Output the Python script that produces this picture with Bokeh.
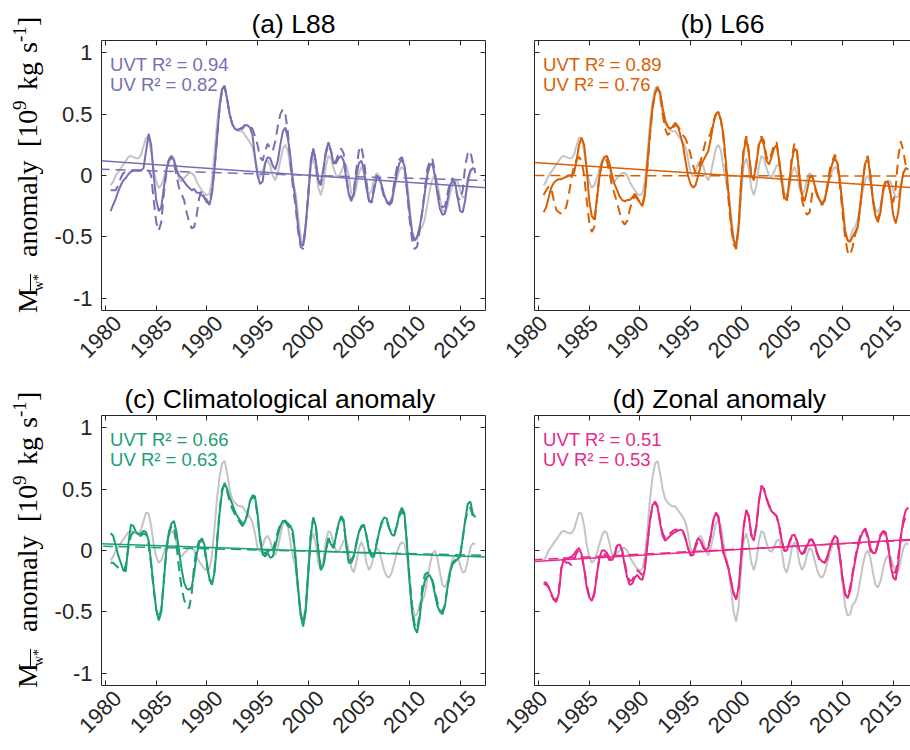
import math
import numpy as np
from bokeh.plotting import figure
from bokeh.models import Range1d, LinearAxis, FixedTicker, Label, Slope, CustomJSTickFormatter, Div
from bokeh.layouts import column, row
from bokeh.embed import file_html
from bokeh.resources import INLINE

# quarterly sample times (1980.5 ... 2016.5)
t = np.arange(1980.5, 2016.501, 0.25)

# ---- reference series (grey, same in every panel) ----
gray = [
    -0.08, -0.05,
    0.0, 0.03, 0.06, 0.09,      # 1981
    0.12, 0.15, 0.16, 0.15,     # 1982
    0.14, 0.14, 0.17, 0.24,     # 1983
    0.31, 0.3, 0.2, 0.05,       # 1984
    -0.05, -0.1, -0.08, -0.02,  # 1985
    0.05, 0.12, 0.16, 0.14,     # 1986
    0.06, -0.03, -0.05, -0.02,  # 1987
    0.0, 0.02, 0.02, 0.0,       # 1988
    -0.05, -0.09, -0.12, -0.15, # 1989
    -0.16, -0.15, -0.04, 0.18,  # 1990
    0.42, 0.6, 0.71, 0.73,      # 1991
    0.63, 0.5, 0.42, 0.39,      # 1992
    0.37, 0.36, 0.36, 0.33,     # 1993
    0.3, 0.27, 0.23, 0.14,      # 1994
    0.02, -0.01, 0.04, 0.1,     # 1995
    0.12, 0.08, 0.0, -0.04,     # 1996
    0.02, 0.12, 0.22, 0.25,     # 1997
    0.2, 0.06, -0.05, -0.14,    # 1998
    -0.32, -0.5, -0.58, -0.45,  # 1999
    -0.15, 0.08, 0.14, 0.05,    # 2000
    -0.1, -0.16, -0.08, 0.08,   # 2001
    0.16, 0.14, 0.06, 0.0,      # 2002
    -0.01, 0.03, 0.08, 0.09,    # 2003
    0.0, -0.14, -0.18, -0.1,    # 2004
    0.02, 0.07, 0.02, -0.1,     # 2005
    -0.16, -0.12, -0.03, 0.02,  # 2006
    0.0, -0.08, -0.16, -0.21,   # 2007
    -0.22, -0.18, -0.1, -0.02,  # 2008
    0.04, 0.07, 0.05, -0.05,    # 2009
    -0.25, -0.45, -0.53, -0.52, # 2010
    -0.44, -0.42, -0.36, -0.24, # 2011
    -0.12, -0.03, 0.0, -0.06,   # 2012
    -0.18, -0.28, -0.3, -0.25,  # 2013
    -0.15, -0.07, -0.04, -0.05, # 2014
    -0.12, -0.18, -0.17, -0.08, # 2015
    0.02, 0.06, 0.05,
]

# ---- (a) L88 ----
a_uvt = [
    -0.29, -0.24,
    -0.19, -0.13, -0.08, -0.04,
    -0.02, 0.01, 0.03, 0.04,
    0.04, 0.04, 0.04, 0.06,
    0.2, 0.34, 0.25, 0.0,
    -0.2, -0.29, -0.26, -0.1,
    0.04, 0.13, 0.16, 0.12,
    0.05, 0.0, -0.02, -0.05,
    -0.08, -0.1, -0.12, -0.11,
    -0.14, -0.14, -0.16, -0.18,
    -0.2, -0.24, -0.15, 0.05,
    0.3, 0.55, 0.7, 0.73,
    0.62, 0.5, 0.42, 0.38,
    0.37, 0.38, 0.38, 0.41,
    0.41, 0.39, 0.33, 0.15,
    0.0, -0.07, -0.05, 0.1,
    0.15, 0.14, 0.08, 0.05,
    0.12, 0.25, 0.36, 0.39,
    0.3, 0.15, -0.05, -0.2,
    -0.42, -0.56, -0.57, -0.4,
    -0.18, 0.1, 0.22, 0.12,
    -0.04, -0.06, 0.05, 0.2,
    0.27, 0.2, 0.1, 0.1,
    0.14, 0.16, 0.12, -0.02,
    -0.15, -0.21, -0.15, 0.0,
    0.1, 0.12, 0.05, -0.1,
    -0.21, -0.22, -0.12, -0.02,
    -0.02, -0.08, -0.16, -0.21,
    -0.24, -0.22, -0.1, 0.02,
    0.1, 0.13, 0.08, -0.1,
    -0.3, -0.46, -0.53, -0.5,
    -0.42, -0.3, -0.15, 0.0,
    0.08, 0.1, 0.0, -0.15,
    -0.27, -0.32, -0.31, -0.2,
    -0.08, -0.04, -0.06, -0.18,
    -0.29, -0.3, -0.2, -0.03,
    0.04, 0.06, 0.05,
]
a_uv = [
    -0.12, -0.12,
    -0.12, -0.08, -0.02, 0.02,
    0.03, 0.04, 0.04, 0.04,
    0.04, 0.04, 0.04, 0.04,
    0.04, 0.04, 0.0, -0.2,
    -0.38, -0.45, -0.38, -0.15,
    0.02, 0.12, 0.14, 0.1,
    0.0, -0.1, -0.15, -0.2,
    -0.3, -0.38, -0.43, -0.42,
    -0.32, -0.18, -0.12, -0.18,
    -0.22, -0.22, -0.13, 0.05,
    0.3, 0.55, 0.7, 0.73,
    0.62, 0.5, 0.42, 0.38,
    0.37, 0.38, 0.39, 0.41,
    0.41, 0.4, 0.38, 0.32,
    0.25, 0.15, 0.12, 0.2,
    0.26, 0.22, 0.2, 0.28,
    0.4, 0.5, 0.54, 0.5,
    0.35, 0.1, -0.1, -0.25,
    -0.45, -0.58, -0.6, -0.42,
    -0.15, 0.12, 0.22, 0.1,
    -0.05, -0.08, 0.05, 0.18,
    0.25, 0.2, 0.1, 0.12,
    0.18, 0.22, 0.18, 0.0,
    -0.15, -0.2, -0.12, 0.05,
    0.2, 0.24, 0.12, -0.05,
    -0.2, -0.22, -0.1, 0.0,
    -0.02, -0.1, -0.18, -0.22,
    -0.23, -0.2, -0.05, 0.06,
    0.13, 0.15, 0.08, -0.12,
    -0.35, -0.52, -0.6, -0.58,
    -0.45, -0.3, -0.12, 0.05,
    0.12, 0.14, 0.03, -0.12,
    -0.22, -0.26, -0.25, -0.15,
    -0.05, -0.02, -0.08, -0.18,
    -0.2, -0.12, 0.08, 0.18,
    0.2, 0.1, 0.02,
]

# ---- (b) L66 ----
b_uvt = [
    -0.3, -0.26,
    -0.18, -0.1, -0.06, -0.04,
    -0.03, -0.03, -0.02, -0.01,
    0.0, 0.0, 0.02, 0.12,
    0.25, 0.31, 0.25, 0.05,
    -0.2, -0.33, -0.36, -0.2,
    -0.02, 0.1, 0.15, 0.16,
    0.1, 0.0, -0.07, -0.12,
    -0.17, -0.2, -0.21, -0.2,
    -0.2, -0.18, -0.15, -0.18,
    -0.22, -0.25, -0.15, 0.1,
    0.35, 0.55, 0.67, 0.71,
    0.68, 0.55, 0.45, 0.4,
    0.38, 0.4, 0.43, 0.4,
    0.33, 0.25, 0.12, 0.0,
    -0.07, -0.1, -0.08, 0.0,
    0.08, 0.12, 0.16, 0.2,
    0.3, 0.42, 0.5, 0.52,
    0.45, 0.33, 0.1, -0.15,
    -0.38, -0.53, -0.58, -0.4,
    -0.05, 0.2, 0.3, 0.18,
    0.0, -0.02, 0.1, 0.25,
    0.3, 0.25, 0.12, 0.09,
    0.15, 0.22, 0.25, 0.12,
    -0.05, -0.18, -0.2, -0.05,
    0.12, 0.22, 0.2, 0.0,
    -0.16, -0.21, -0.12, -0.02,
    0.0, -0.08, -0.15, -0.2,
    -0.23, -0.2, -0.1, 0.02,
    0.1, 0.14, 0.1, -0.05,
    -0.25, -0.45, -0.53, -0.54,
    -0.5, -0.46, -0.42, -0.25,
    -0.05, 0.1, 0.14, 0.0,
    -0.2, -0.33, -0.38, -0.3,
    -0.12, -0.05, -0.05, -0.15,
    -0.32, -0.39, -0.3, -0.1,
    0.02, 0.06, 0.05,
]
b_uv = [
    -0.16, -0.12,
    -0.09, -0.1, -0.2, -0.28,
    -0.3, -0.31, -0.3, -0.25,
    -0.15, -0.02, 0.08, 0.13,
    0.15, 0.12, 0.0, -0.2,
    -0.38, -0.46, -0.42, -0.2,
    0.0, 0.1, 0.14, 0.12,
    0.02, -0.08, -0.15, -0.22,
    -0.3, -0.37, -0.4, -0.37,
    -0.28, -0.2, -0.17, -0.19,
    -0.22, -0.24, -0.15, 0.08,
    0.33, 0.55, 0.67, 0.72,
    0.66, 0.5, 0.38, 0.33,
    0.35, 0.39, 0.41, 0.4,
    0.37, 0.33, 0.3, 0.25,
    0.17, 0.08, 0.02, 0.05,
    0.12, 0.2, 0.28, 0.3,
    0.35, 0.44, 0.5, 0.52,
    0.45, 0.3, 0.05, -0.2,
    -0.42, -0.56, -0.6, -0.42,
    -0.05, 0.22, 0.32, 0.2,
    0.0, -0.04, 0.1, 0.26,
    0.32, 0.28, 0.15, 0.12,
    0.18, 0.26, 0.27, 0.12,
    -0.05, -0.2, -0.22, -0.05,
    0.15, 0.26, 0.2, -0.02,
    -0.2, -0.28, -0.32, -0.3,
    -0.15, -0.1, -0.16, -0.22,
    -0.24, -0.2, -0.08, 0.05,
    0.12, 0.17, 0.1, -0.08,
    -0.3, -0.5, -0.62, -0.65,
    -0.58, -0.48, -0.42, -0.25,
    -0.05, 0.12, 0.16, 0.0,
    -0.2, -0.32, -0.36, -0.28,
    -0.12, -0.04, -0.05, -0.15,
    -0.22, -0.1, 0.15, 0.28,
    0.2, 0.08, 0.06,
]

# ---- (c) Climatological anomaly ----
c_uvt = [
    0.14, 0.12,
    0.04, -0.04, -0.1, -0.16,
    -0.17, 0.05, 0.21, 0.2,
    0.15, 0.13, 0.14, 0.16,
    0.15, 0.08, -0.1, -0.3,
    -0.48, -0.57, -0.5, -0.25,
    0.0, 0.15, 0.22, 0.24,
    0.15, 0.0, -0.15, -0.26,
    -0.31, -0.32, -0.3, -0.18,
    -0.03, 0.06, 0.1, 0.05,
    -0.1, -0.23, -0.28, -0.18,
    0.05, 0.3, 0.48, 0.55,
    0.5, 0.43, 0.38, 0.32,
    0.28, 0.25, 0.22, 0.23,
    0.3, 0.4, 0.45, 0.44,
    0.3, 0.08, -0.03, -0.05,
    -0.02, -0.06, -0.05, 0.03,
    0.12, 0.2, 0.24, 0.24,
    0.22, 0.2, 0.15, -0.05,
    -0.3, -0.52, -0.62, -0.5,
    -0.2, 0.12, 0.27, 0.2,
    0.0, -0.16, -0.12, 0.0,
    0.1, 0.05, 0.02, 0.12,
    0.22, 0.28, 0.25, 0.05,
    -0.1, -0.1, -0.05, 0.05,
    0.15, 0.2, 0.21, 0.12,
    0.0, -0.05, -0.05, 0.05,
    0.15, 0.23, 0.27, 0.26,
    0.18, 0.13, 0.12, 0.2,
    0.3, 0.35, 0.3, 0.05,
    -0.25, -0.5, -0.63, -0.67,
    -0.55, -0.35, -0.25, -0.21,
    -0.2, -0.25, -0.35, -0.45,
    -0.5, -0.52, -0.45, -0.3,
    -0.18, -0.11, -0.09, -0.07,
    -0.05, 0.1, 0.25, 0.38,
    0.4, 0.3, 0.27,
]
c_uv = [
    -0.1, -0.1,
    -0.12, -0.14, -0.16, -0.17,
    -0.12, 0.02, 0.12, 0.15,
    0.14, 0.12, 0.12, 0.14,
    0.13, 0.05, -0.12, -0.32,
    -0.48, -0.55, -0.48, -0.25,
    0.0, 0.14, 0.2, 0.2,
    0.05, -0.15, -0.3, -0.4,
    -0.46, -0.47, -0.35, -0.12,
    0.02, 0.08, 0.08, 0.02,
    -0.12, -0.24, -0.27, -0.16,
    0.08, 0.32, 0.5, 0.54,
    0.48, 0.4, 0.34, 0.3,
    0.26, 0.23, 0.2, 0.22,
    0.3, 0.4, 0.44, 0.42,
    0.28, 0.1, 0.0, -0.03,
    0.0, -0.03, 0.0, 0.08,
    0.15, 0.22, 0.24, 0.23,
    0.2, 0.18, 0.12, -0.08,
    -0.32, -0.52, -0.6, -0.48,
    -0.18, 0.12, 0.26, 0.2,
    0.0, -0.15, -0.13, 0.0,
    0.1, 0.06, 0.02, 0.12,
    0.22, 0.27, 0.23, 0.05,
    -0.08, -0.08, -0.04, 0.06,
    0.15, 0.19, 0.2, 0.12,
    0.02, -0.03, -0.03, 0.06,
    0.15, 0.22, 0.25, 0.24,
    0.18, 0.14, 0.14, 0.2,
    0.28, 0.32, 0.28, 0.05,
    -0.22, -0.45, -0.6, -0.64,
    -0.52, -0.3, -0.2, -0.18,
    -0.2, -0.24, -0.32, -0.42,
    -0.48, -0.5, -0.44, -0.3,
    -0.18, -0.1, -0.08, -0.06,
    -0.04, 0.1, 0.24, 0.33,
    0.35, 0.28, 0.26,
]

# ---- (d) Zonal anomaly ----
d_uvt = [
    -0.27, -0.28,
    -0.3, -0.35, -0.4, -0.42,
    -0.35, -0.15, -0.06, -0.07,
    -0.06, -0.05, -0.03, 0.0,
    0.02, -0.03, -0.15, -0.3,
    -0.38, -0.41, -0.36, -0.2,
    -0.06, 0.0, 0.0, -0.02,
    -0.06, -0.08, -0.04, 0.04,
    0.05, 0.0, -0.12, -0.22,
    -0.28, -0.27, -0.22, -0.2,
    -0.23, -0.24, -0.15, 0.05,
    0.25, 0.37, 0.39, 0.35,
    0.22, 0.12, 0.08, 0.1,
    0.12, 0.14, 0.15, 0.16,
    0.17, 0.16, 0.1, 0.02,
    -0.03, -0.04, 0.05, 0.1,
    0.08, 0.02, 0.0, 0.02,
    0.12, 0.25, 0.31, 0.28,
    0.12, -0.02, -0.08, -0.15,
    -0.25, -0.35, -0.4, -0.3,
    -0.05, 0.2, 0.33, 0.28,
    0.12, 0.08, 0.2, 0.4,
    0.52, 0.5, 0.42, 0.36,
    0.32, 0.3, 0.28, 0.2,
    0.08, 0.0, 0.0, 0.07,
    0.12, 0.13, 0.08, 0.0,
    -0.03, -0.02, 0.04, 0.08,
    0.09, 0.05, -0.02, -0.07,
    -0.09, -0.1, -0.05, 0.02,
    0.08, 0.12, 0.1, -0.05,
    -0.22, -0.35, -0.39, -0.33,
    -0.2, -0.08, 0.02, 0.1,
    0.15, 0.18, 0.12, 0.02,
    -0.02, -0.02, 0.05, 0.12,
    0.16, 0.15, 0.05, -0.12,
    -0.22, -0.24, -0.1, 0.1,
    0.25, 0.33, 0.35,
]
d_uv = [
    -0.26, -0.26,
    -0.3, -0.36, -0.4, -0.4,
    -0.33, -0.14, -0.08, -0.1,
    -0.1, -0.12, -0.08, -0.02,
    0.0, -0.04, -0.14, -0.28,
    -0.37, -0.4, -0.35, -0.2,
    -0.06, -0.02, -0.03, -0.04,
    -0.08, -0.07, -0.03, 0.04,
    0.05, 0.0, -0.1, -0.2,
    -0.25, -0.24, -0.2, -0.16,
    -0.18, -0.2, -0.12, 0.06,
    0.25, 0.36, 0.4, 0.36,
    0.24, 0.14, 0.1, 0.12,
    0.14, 0.16, 0.17, 0.17,
    0.17, 0.15, 0.1, 0.02,
    -0.04, -0.05, 0.03, 0.08,
    0.08, 0.03, 0.0, 0.03,
    0.12, 0.24, 0.3, 0.27,
    0.12, -0.02, -0.08, -0.15,
    -0.25, -0.35, -0.39, -0.3,
    -0.05, 0.2, 0.32, 0.28,
    0.13, 0.1, 0.2, 0.4,
    0.53, 0.5, 0.43, 0.37,
    0.33, 0.3, 0.28, 0.2,
    0.08, 0.0, -0.01, 0.06,
    0.11, 0.12, 0.08, 0.0,
    -0.03, 0.0, 0.05, 0.09,
    0.09, 0.04, -0.03, -0.08,
    -0.1, -0.1, -0.06, 0.02,
    0.08, 0.11, 0.08, -0.06,
    -0.24, -0.36, -0.38, -0.3,
    -0.18, -0.06, 0.04, 0.12,
    0.16, 0.17, 0.1, 0.0,
    -0.03, -0.02, 0.06, 0.13,
    0.15, 0.13, 0.03, -0.1,
    -0.18, -0.18, -0.05, 0.12,
    0.22, 0.28, 0.3,
]

# linear trends: value at the left and right x-limits
trend_years = [1979.6, 2017.5]
a_trend_uvt = [0.12, -0.10]
a_trend_uv = [0.05, -0.04]
b_trend_uvt = [0.105, -0.103]
b_trend_uv = [0.0, -0.005]
c_trend_uvt = [0.055, -0.052]
c_trend_uv = [0.035, -0.04]
d_trend_uvt = [-0.09, 0.094]
d_trend_uv = [-0.075, 0.088]

titles = ["(a) L88", "(b) L66", "(c) Climatological anomaly", "(d) Zonal anomaly"]
r2_uvt = ["0.94", "0.89", "0.66", "0.51"]
r2_uv = ["0.82", "0.76", "0.63", "0.53"]
colors = ["#7570b3", "#d95f02", "#1b9e77", "#e7298a"]
x_ticks = [1980, 1985, 1990, 1995, 2000, 2005, 2010, 2015]
y_ticks = [-1, -0.5, 0, 0.5, 1]
Y_LO, Y_HI = -1.1, 1.1

AX = "#262626"
SANS = "Liberation Sans"
SERIF = "Liberation Serif"
DASH = "10 6"
H = 375      # height of each row
LAB_W = 50   # width of the strip holding the y-axis label
# title placement: (align, offset px)
title_place = [("center", 0), ("center", 0), ("left", 23), ("left", 78)]


def style_axis(ax, labels=True, size="22px"):
    ax.axis_line_color = AX
    ax.axis_line_width = 1
    ax.major_tick_in = 5
    ax.major_tick_out = 0
    ax.minor_tick_in = 0
    ax.minor_tick_out = 0
    ax.major_tick_line_color = AX
    ax.major_label_text_font = SANS
    ax.major_label_text_color = AX
    if labels:
        ax.major_label_text_font_size = size
    else:
        ax.major_label_text_font_size = "1px"
        ax.major_label_standoff = 0
        ax.formatter = CustomJSTickFormatter(code="return ''")


def ylabel_div():
    # M_{\overline{w^*}} anomaly [10^9 kg s^-1], rotated to read bottom-to-top.
    # (text, font px, offset along the text, offset across it, extra css)
    parts = [
        ("M", 28, 0, 13.5, ""),
        ("w*", 14, 22, 32.3, "text-decoration:overline;"),
        ("anomaly", 28, 56, 13.5, ""),
        ("[10", 28, 166, 13.5, ""),
        ("9", 19, 203, 10.1, ""),
        ("kg", 28, 223, 13.5, ""),
        ("s", 28, 260, 13.5, ""),
        ("-1", 19, 271, 10.1, ""),
        ("]", 28, 287, 13.5, ""),
    ]
    spans = "".join(
        f'<span style="position:absolute;left:{a}px;top:{b}px;font-size:{s}px;'
        f'line-height:{s}px;{css}">{txt}</span>'
        for txt, s, a, b, css in parts)
    html = (f'<div style="position:relative;width:300px;height:{LAB_W}px;'
            f'transform-origin:0 0;transform:translate(0px,313px) rotate(-90deg);'
            f"font-family:'{SERIF}';color:black;white-space:nowrap;\">{spans}</div>")
    return Div(text=html, width=LAB_W, height=H, margin=0,
               styles={"overflow": "visible"})


def make_panel(i, uvt, uv, tr_uvt, tr_uv, left):
    color = colors[i]
    x0, x1 = trend_years
    if left:
        fw, bl, br = 384, 101 - LAB_W, 10
        x_end = x1
        lab_shift_px = 12
    else:
        fw, bl, br = 376, 39, 0
        x_end = x0 + (x1 - x0) * 376 / 384
        lab_shift_px = 5   # keep the last label inside the window
    p = figure(width=bl + fw + br, height=H,
               x_range=Range1d(x0, x_end), y_range=Range1d(Y_LO, Y_HI),
               output_backend="svg", toolbar_location=None,
               min_border_left=bl, min_border_right=br, min_border_top=40, min_border_bottom=65)
    p.outline_line_color = None
    p.grid.visible = False
    p.background_fill_color = "white"
    p.border_fill_color = "white"

    # bottom axis: ticks only; its labels come from a second axis whose range is slid so
    # that the rotated labels end right of their ticks, as in the MATLAB original
    p.xaxis.ticker = FixedTicker(ticks=x_ticks)
    style_axis(p.xaxis[0], labels=False)
    shift = lab_shift_px * (x_end - x0) / fw
    p.extra_x_ranges = {"lab": Range1d(x0 - shift, x_end - shift)}
    lab = LinearAxis(x_range_name="lab", ticker=FixedTicker(ticks=x_ticks),
                     major_label_orientation=math.pi / 4,
                     major_label_standoff=9, axis_line_color=None,
                     major_tick_in=0, major_tick_out=0, minor_tick_in=0, minor_tick_out=0,
                     major_tick_line_color=None, minor_tick_line_color=None,
                     major_label_text_font=SANS, major_label_text_font_size="22px",
                     major_label_text_color=AX)
    p.add_layout(lab, "below")

    p.yaxis.ticker = FixedTicker(ticks=y_ticks)
    style_axis(p.yaxis[0], labels=left)
    if left:
        p.yaxis.formatter = CustomJSTickFormatter(code="return tick.toString()")
        p.yaxis.major_label_standoff = 9

    top = LinearAxis(ticker=FixedTicker(ticks=x_ticks))
    style_axis(top, labels=False)
    p.add_layout(top, "above")
    if left:
        rt = LinearAxis(ticker=FixedTicker(ticks=y_ticks))
        style_axis(rt, labels=False)
        p.add_layout(rt, "right")

    p.title.text = titles[i]
    p.title.align = title_place[i][0]
    p.title.offset = title_place[i][1]
    p.title.text_font = SANS
    p.title.text_font_size = "26.5px"
    p.title.text_font_style = "normal"
    p.title.text_color = "black"
    p.title.standoff = 3

    p.line(t, gray, line_color="#c4c4c4", line_width=2)
    p.line(t, uv, line_color=color, line_width=2, line_dash=DASH)
    p.line(t, uvt, line_color=color, line_width=2)

    for tr, dash in ((tr_uvt, "solid"), (tr_uv, DASH)):
        g = (tr[1] - tr[0]) / (x1 - x0)
        p.add_layout(Slope(gradient=g, y_intercept=tr[0] - g * x0,
                           line_color=color, line_width=1.5, line_dash=dash))

    for k, (name, r2) in enumerate((("UVT", r2_uvt[i]), ("UV", r2_uv[i]))):
        p.add_layout(Label(x=1980.45, y=0.905 - 0.163 * k, text=f"{name} R\u00b2 = {r2}",
                           text_color=color, text_font=SANS, text_font_size="18.5px",
                           text_baseline="alphabetic"))
    return p


pa = make_panel(0, a_uvt, a_uv, a_trend_uvt, a_trend_uv, True)
pb = make_panel(1, b_uvt, b_uv, b_trend_uvt, b_trend_uv, False)
pc = make_panel(2, c_uvt, c_uv, c_trend_uvt, c_trend_uv, True)
pd = make_panel(3, d_uvt, d_uv, d_trend_uvt, d_trend_uv, False)

layout = column(row(ylabel_div(), pa, pb), row(ylabel_div(), pc, pd))
open("out.html", "w").write(file_html(layout, INLINE))
